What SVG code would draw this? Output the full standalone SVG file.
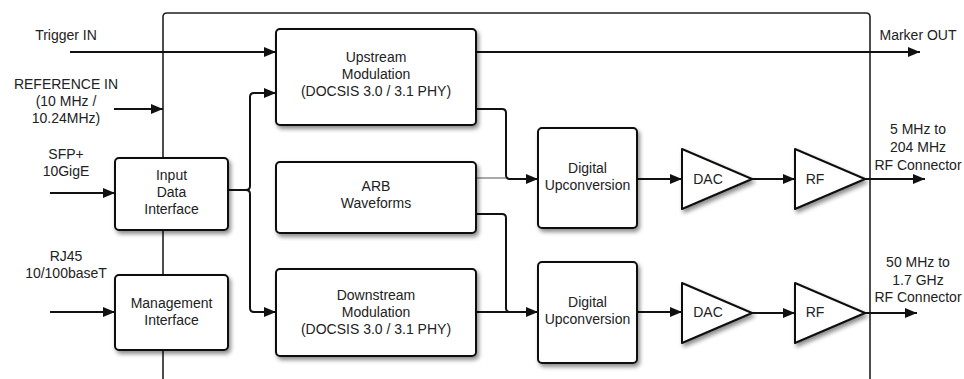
<svg xmlns="http://www.w3.org/2000/svg" width="964" height="379" viewBox="0 0 964 379">
<style>
  text { font-family: "Liberation Sans", Arial, sans-serif; font-size: 14px; fill: #222; text-anchor: middle; }
  .box { fill: #fff; stroke: #111; stroke-width: 2; filter: url(#sh); }
  .ln { fill: none; stroke: #111; stroke-width: 2; }
  .thin { fill: none; stroke: #555; stroke-width: 1; }
  .frame { fill: none; stroke: #222; stroke-width: 1.6; }
</style>
<defs>
  <filter id="sh" x="-20%" y="-20%" width="140%" height="150%">
    <feDropShadow dx="2" dy="3" stdDeviation="2" flood-color="#000" flood-opacity="0.45"/>
  </filter>
  <marker id="ah" viewBox="0 0 12 10" refX="12" refY="5" markerWidth="12" markerHeight="10" markerUnits="userSpaceOnUse" orient="auto">
    <path d="M0,0 L12,5 L0,10 Z" fill="#111"/>
  </marker>
</defs>
<rect width="964" height="379" fill="#fff"/>

<g id="frame">
  <path class="frame" d="M163,379 V17 Q163,13 167,13 H866 Q870,13 870,17 V379"/>
</g>

<g id="connectors">
  <path class="ln" d="M70,52 H276" marker-end="url(#ah)"/>
  <path class="ln" d="M476,52 H920" marker-end="url(#ah)"/>
  <path class="ln" d="M114,109 H163" stroke-width="1.5" marker-end="url(#ah)"/>
  <path class="ln" d="M50,193 H115" marker-end="url(#ah)"/>
  <path class="ln" d="M50,312 H115" marker-end="url(#ah)"/>
  <path class="ln" d="M228,190 H246 Q250,190 250,186 V97 Q250,93 254,93 H276" marker-end="url(#ah)"/>
  <path class="ln" d="M246,190 Q250,190 250,194 V308 Q250,312 254,312 H276" marker-end="url(#ah)"/>
  <path class="ln" d="M476,109 H502 Q506,109 506,113 V175 Q506,179 510,179 H538" marker-end="url(#ah)"/>
  <path class="thin" d="M476,178 H506"/>
  <path class="ln" d="M476,214 H502 Q506,214 506,218 V308 Q506,312 510,312"/>
  <path class="ln" d="M476,312 H538" marker-end="url(#ah)"/>
  <path class="ln" d="M637,179 H682" marker-end="url(#ah)"/>
  <path class="ln" d="M752,179 H795" marker-end="url(#ah)"/>
  <path class="ln" d="M865,179 H925" marker-end="url(#ah)"/>
  <path class="ln" d="M637,312 H682" marker-end="url(#ah)"/>
  <path class="ln" d="M752,313 H795" marker-end="url(#ah)"/>
  <path class="ln" d="M865,313 H917" marker-end="url(#ah)"/>
</g>

<g id="labels">
  <text x="66" y="40">Trigger IN</text>
  <text x="66" y="89">REFERENCE IN</text>
  <text x="66" y="106">(10 MHz /</text>
  <text x="66" y="123">10.24MHz)</text>
  <text x="66" y="159">SFP+</text>
  <text x="66" y="176">10GigE</text>
  <text x="66" y="261">RJ45</text>
  <text x="66" y="278">10/100baseT</text>
  <text x="918" y="40">Marker OUT</text>
  <text x="918" y="134">5 MHz to</text>
  <text x="918" y="152">204 MHz</text>
  <text x="918" y="170">RF Connector</text>
  <text x="918" y="267">50 MHz to</text>
  <text x="918" y="285">1.7 GHz</text>
  <text x="918" y="302">RF Connector</text>
</g>

<g id="upstream">
  <rect class="box" x="276" y="29" width="200" height="96" rx="4"/>
  <text x="376" y="62">Upstream</text>
  <text x="376" y="79">Modulation</text>
  <text x="376" y="96">(DOCSIS 3.0 / 3.1 PHY)</text>
</g>
<g id="input-data">
  <rect class="box" x="115" y="158" width="113" height="72" rx="4"/>
  <text x="171.5" y="180">Input</text>
  <text x="171.5" y="197">Data</text>
  <text x="171.5" y="214">Interface</text>
</g>
<g id="management">
  <rect class="box" x="115" y="275" width="113" height="75" rx="4"/>
  <text x="171.5" y="308">Management</text>
  <text x="171.5" y="325">Interface</text>
</g>
<g id="arb">
  <rect class="box" x="276" y="162" width="200" height="71" rx="4"/>
  <text x="376" y="191">ARB</text>
  <text x="376" y="208">Waveforms</text>
</g>
<g id="downstream">
  <rect class="box" x="276" y="269" width="200" height="87" rx="4"/>
  <text x="376" y="300">Downstream</text>
  <text x="376" y="317">Modulation</text>
  <text x="376" y="334">(DOCSIS 3.0 / 3.1 PHY)</text>
</g>
<g id="duc1">
  <rect class="box" x="538" y="128" width="99" height="100" rx="4"/>
  <text x="587.5" y="173">Digital</text>
  <text x="587.5" y="190">Upconversion</text>
</g>
<g id="duc2">
  <rect class="box" x="538" y="262" width="99" height="101" rx="4"/>
  <text x="587.5" y="307">Digital</text>
  <text x="587.5" y="324">Upconversion</text>
</g>
<g id="dac1">
  <path class="box" stroke-linejoin="round" d="M682,149 L752,179 L682,209 Z"/>
  <text x="708" y="184">DAC</text>
</g>
<g id="rf1">
  <path class="box" stroke-linejoin="round" d="M795,149 L865,179 L795,209 Z"/>
  <text x="815" y="184">RF</text>
</g>
<g id="dac2">
  <path class="box" stroke-linejoin="round" d="M682,283 L752,313 L682,343 Z"/>
  <text x="708" y="317">DAC</text>
</g>
<g id="rf2">
  <path class="box" stroke-linejoin="round" d="M795,283 L865,313 L795,343 Z"/>
  <text x="815" y="317">RF</text>
</g>
</svg>
